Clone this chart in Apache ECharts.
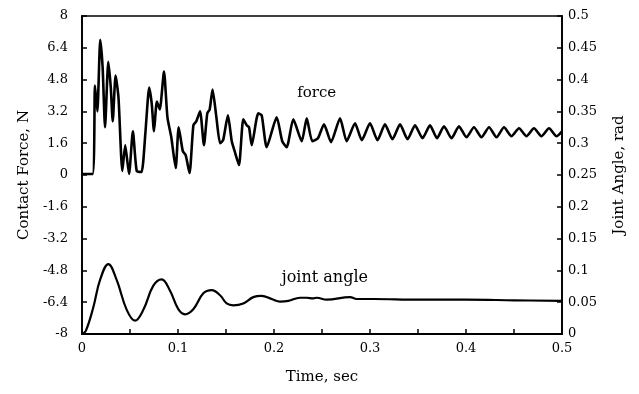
<!DOCTYPE html>
<html>
<head>
<meta charset="utf-8">
<script src="https://cdn.jsdelivr.net/npm/echarts@6/dist/echarts.min.js"></script>
<style>
html,body{margin:0;padding:0;background:#fff;}
#chart{width:639px;height:394px;}
</style>
</head>
<body>
<div id="chart"></div>
<script>
// Contact force (N) vs time (s)
const forceTime = [0, 0.011, 0.0135, 0.016, 0.019, 0.0215, 0.024, 0.0274, 0.030, 0.032, 0.035, 0.038, 0.042, 0.045, 0.049, 0.053, 0.057, 0.062, 0.066, 0.070, 0.0726, 0.075, 0.078, 0.081, 0.0854, 0.089, 0.093, 0.0976, 0.1007, 0.105, 0.108, 0.112, 0.116, 0.119, 0.123, 0.127, 0.1305, 0.133, 0.136, 0.140, 0.1438, 0.147, 0.152, 0.156, 0.159, 0.1635, 0.168, 0.1716, 0.174, 0.1768, 0.1836, 0.1872, 0.1924, 0.2028, 0.2086, 0.2132, 0.2201, 0.2289, 0.2341, 0.2399, 0.2458, 0.2521, 0.2594, 0.2688, 0.2757, 0.2844, 0.2914, 0.3, 0.3078, 0.3156, 0.3234, 0.3313, 0.3391, 0.3469, 0.3547, 0.3625, 0.3698, 0.3771, 0.3849, 0.3927, 0.4005, 0.4083, 0.4161, 0.424, 0.4318, 0.4396, 0.4474, 0.4552, 0.463, 0.4708, 0.4786, 0.4865, 0.4943, 0.5];
const forceValues = [0.05, 0.05, 4.5, 3.2, 6.8, 5.4, 2.4, 5.7, 4.4, 2.7, 5.0, 3.9, 0.2, 1.5, 0.05, 2.2, 0.2, 0.15, 2.1, 4.4, 3.6, 2.2, 3.7, 3.3, 5.2, 2.9, 1.9, 0.35, 2.4, 1.2, 1.0, 0.1, 2.5, 2.7, 3.2, 1.5, 3.1, 3.3, 4.3, 2.9, 1.6, 1.75, 3.0, 1.7, 1.2, 0.5, 2.8, 2.5, 2.4, 1.5, 3.1, 3.0, 1.4, 2.9, 1.7, 1.4, 2.8, 1.7, 2.85, 1.7, 1.85, 2.55, 1.65, 2.85, 1.7, 2.6, 1.75, 2.6, 1.75, 2.55, 1.8, 2.55, 1.8, 2.5, 1.85, 2.5, 1.85, 2.45, 1.85, 2.45, 1.9, 2.4, 1.9, 2.4, 1.9, 2.4, 1.95, 2.35, 1.95, 2.35, 1.95, 2.35, 1.95, 2.2];

// Joint angle (rad) vs time (s)
const angleTime = [0, 0.004, 0.0118, 0.0188, 0.0274, 0.0361, 0.0466, 0.0552, 0.0639, 0.0743, 0.083, 0.0917, 0.1003, 0.1073, 0.1159, 0.1264, 0.1351, 0.1438, 0.1507, 0.1576, 0.168, 0.1784, 0.1872, 0.1976, 0.2063, 0.2149, 0.2271, 0.234, 0.241, 0.2445, 0.2549, 0.2792, 0.2861, 0.3034, 0.35, 0.4, 0.45, 0.5];
const angleValues = [0, 0.005, 0.042, 0.085, 0.11, 0.085, 0.038, 0.021, 0.038, 0.076, 0.086, 0.068, 0.039, 0.031, 0.039, 0.064, 0.069, 0.061, 0.048, 0.045, 0.048, 0.058, 0.060, 0.055, 0.051, 0.052, 0.057, 0.057, 0.056, 0.057, 0.054, 0.058, 0.055, 0.055, 0.054, 0.054, 0.053, 0.052];

const xTitle = 'Time, sec';
const leftTitle = 'Contact Force, N';
const rightTitle = 'Joint Angle, rad';

const FONT = 'DejaVu Serif';
const chart = echarts.init(document.getElementById('chart'), null, {renderer: 'canvas'});

const forceData = forceTime.map((t, i) => [t, forceValues[i]]);
const angleData = angleTime.map((t, i) => [t, angleValues[i]]);

function fmtX(v) {
  const k = Math.round(v * 100);
  if (k % 10 !== 0) return '';
  return String(k / 100);
}

chart.setOption({
  backgroundColor: '#fff',
  animation: false,
  grid: {left: 82, right: 77, top: 16, bottom: 60, show: true, borderColor: '#000', borderWidth: 1.6, backgroundColor: 'transparent'},
  xAxis: {
    type: 'value', min: 0, max: 0.5, interval: 0.05,
    name: xTitle, nameLocation: 'middle', nameGap: 36,
    nameTextStyle: {fontFamily: FONT, fontSize: 15, color: '#000'},
    axisLine: {show: true, onZero: false, lineStyle: {color: '#000', width: 1.8}},
    axisTick: {show: true, inside: true, length: 5, lineStyle: {color: '#000', width: 1.5}},
    axisLabel: {formatter: fmtX, fontFamily: FONT, fontSize: 13, color: '#000', margin: 8, showMinLabel: true, showMaxLabel: true},
    splitLine: {show: false}
  },
  yAxis: [{
    type: 'value', min: -8, max: 8, interval: 1.6, position: 'left',
    name: leftTitle, nameLocation: 'middle', nameGap: 50, nameRotate: 90,
    nameTextStyle: {fontFamily: FONT, fontSize: 15, color: '#000'},
    axisLine: {show: true, onZero: false, lineStyle: {color: '#000', width: 1.8}},
    axisTick: {show: true, inside: true, length: 5, lineStyle: {color: '#000', width: 1.5}},
    axisLabel: {fontFamily: FONT, fontSize: 13, color: '#000', margin: 14},
    splitLine: {show: false}
  }, {
    type: 'value', min: 0, max: 0.5, interval: 0.05, position: 'right',
    name: rightTitle, nameLocation: 'middle', nameGap: 50, nameRotate: 90,
    nameTextStyle: {fontFamily: FONT, fontSize: 15, color: '#000'},
    axisLine: {show: true, onZero: false, lineStyle: {color: '#000', width: 1.8}},
    axisTick: {show: true, inside: true, length: 5, lineStyle: {color: '#000', width: 1.5}},
    axisLabel: {fontFamily: FONT, fontSize: 13, color: '#000', margin: 6},
    splitLine: {show: false}
  }],
  series: [{
    name: 'force', type: 'line', yAxisIndex: 0, data: forceData,
    showSymbol: false, smooth: 0.2,
    lineStyle: {color: '#000', width: 2.6},
    markPoint: {
      symbol: 'circle', symbolSize: 0,
      label: {show: true, position: 'inside', formatter: 'force', fontFamily: FONT, fontSize: 15, color: '#000'},
      data: [{coord: [0.2445, 4.12]}]
    }
  }, {
    name: 'joint angle', type: 'line', yAxisIndex: 1, data: angleData,
    showSymbol: false, smooth: 0.4,
    lineStyle: {color: '#000', width: 2.2},
    markPoint: {
      symbol: 'circle', symbolSize: 0,
      label: {show: true, position: 'inside', formatter: 'joint angle', fontFamily: FONT, fontSize: 16, color: '#000'},
      data: [{coord: [0.253, 0.088]}]
    }
  }]
});
</script>
</body>
</html>
